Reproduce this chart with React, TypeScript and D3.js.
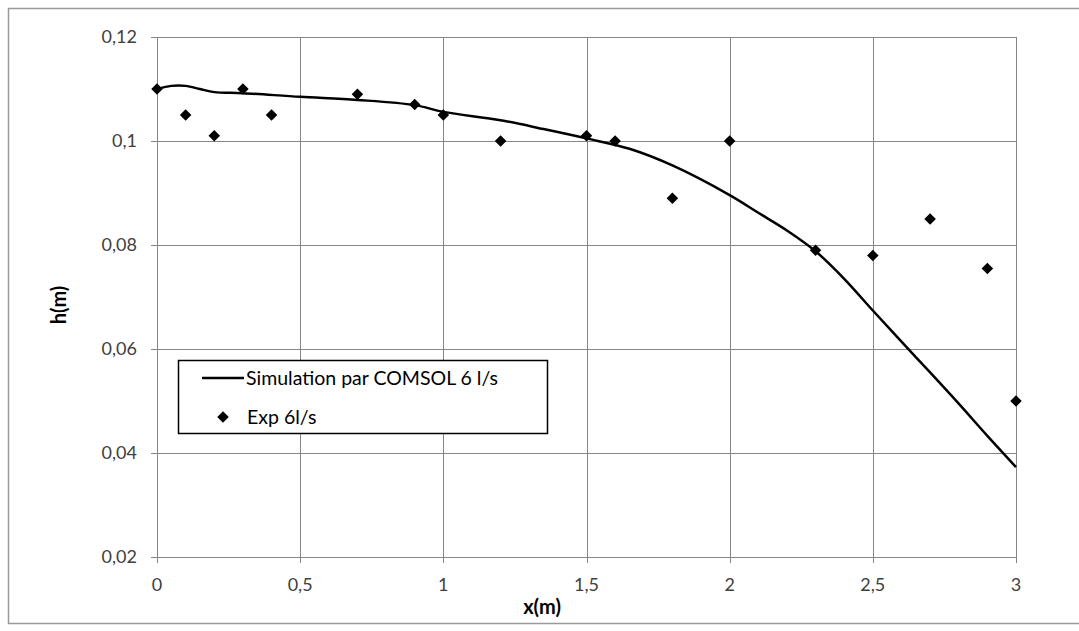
import React from "react";
import * as d3 from "d3";

const simX = [0, 0.05, 0.1, 0.15, 0.2, 0.3, 0.5, 0.7, 0.9, 1.0, 1.2, 1.35, 1.5, 1.65, 1.8, 2.0, 2.1, 2.2, 2.3, 2.4, 2.5, 2.6, 2.7, 2.8, 2.9, 3.0];
const simH = [0.110, 0.1106, 0.1106, 0.1100, 0.1094, 0.1092, 0.1085, 0.1079, 0.1069, 0.1056, 0.1040, 0.1023, 0.1005, 0.0985, 0.0953, 0.0896, 0.0862, 0.0828, 0.0788, 0.0735, 0.0674, 0.0614, 0.0555, 0.0495, 0.0433, 0.0373];

const expX = [0, 0.1, 0.2, 0.3, 0.4, 0.7, 0.9, 1.0, 1.2, 1.5, 1.6, 1.8, 2.0, 2.3, 2.5, 2.7, 2.9, 3.0];
const expH = [0.110, 0.105, 0.101, 0.110, 0.105, 0.109, 0.107, 0.105, 0.100, 0.101, 0.100, 0.089, 0.100, 0.079, 0.078, 0.085, 0.0755, 0.050];

const xTicks = [0, 0.5, 1, 1.5, 2, 2.5, 3];
const yTicks = [0.02, 0.04, 0.06, 0.08, 0.1, 0.12];

const seriesNames = ["Simulation par COMSOL 6 l/s", "Exp 6l/s"];

const fmt = (v: number) => String(+v.toFixed(3)).replace(".", ",");

export default function App() {
  const W = 1079, H = 631;
  const left = 157, right = 1016, top = 37, bottom = 557;
  const x = d3.scaleLinear().domain([0, 3]).range([left, right]);
  const y = d3.scaleLinear().domain([0.02, 0.12]).range([bottom, top]);
  const line = d3
    .line<number>()
    .x((_, i) => x(simX[i]))
    .y((d) => y(d))
    .curve(d3.curveCatmullRom.alpha(0.5));
  const diamond = d3.symbol().type(d3.symbolDiamond2).size(85)() as string;
  const font = "Lato, 'Open Sans', sans-serif";
  return (
    <svg
      width={W}
      height={H}
      style={{ position: "absolute", left: 0, top: 0, background: "#fff" }}
      fontFamily={font}
    >
      <rect x={0} y={0} width={W} height={H} fill="#fff" />
      <rect x={8.5} y={8.5} width={1100} height={615} fill="none" stroke="#9a9a9a" strokeWidth={1.5} />
      {yTicks.map((t) => (
        <g key={"y" + t}>
          <line x1={left - 6} x2={right} y1={Math.round(y(t)) + 0.5} y2={Math.round(y(t)) + 0.5} stroke="#868686" strokeWidth={1} />
          <text x={137} y={y(t)} dy="0.35em" textAnchor="end" fontSize={18} fill="#404040">
            {fmt(t)}
          </text>
        </g>
      ))}
      {xTicks.map((t) => (
        <g key={"x" + t}>
          <line x1={Math.round(x(t)) + 0.5} x2={Math.round(x(t)) + 0.5} y1={top} y2={bottom + 6} stroke="#868686" strokeWidth={1} />
          <text x={x(t)} y={585} dy="0.35em" textAnchor="middle" fontSize={18} fill="#404040">
            {fmt(t)}
          </text>
        </g>
      ))}
      <path d={line(simH) || ""} fill="none" stroke="#000" strokeWidth={2.5} />
      {expH.map((h, i) => (
        <path key={i} d={diamond} transform={`translate(${x(expX[i])},${y(h)})`} fill="#000" />
      ))}
      <text x={542} y={607} dy="0.35em" textAnchor="middle" fontSize={20} fontWeight="bold" fill="#000">
        x(m)
      </text>
      <text transform="translate(59,305) rotate(-90)" dy="0.35em" textAnchor="middle" fontSize={20} fontWeight="bold" fill="#000">
        h(m)
      </text>
      <rect x={178.5} y={360.5} width={369} height={73} fill="#fff" stroke="#000" strokeWidth={1.5} />
      <line x1={202} x2={244} y1={378} y2={378} stroke="#000" strokeWidth={2.5} />
      <text x={246} y={378} dy="0.35em" fontSize={19.5} fill="#000">
        {seriesNames[0]}
      </text>
      <path d={diamond} transform="translate(223,417)" fill="#000" />
      <text x={247} y={417} dy="0.35em" fontSize={19.5} fill="#000">
        {seriesNames[1]}
      </text>
    </svg>
  );
}
